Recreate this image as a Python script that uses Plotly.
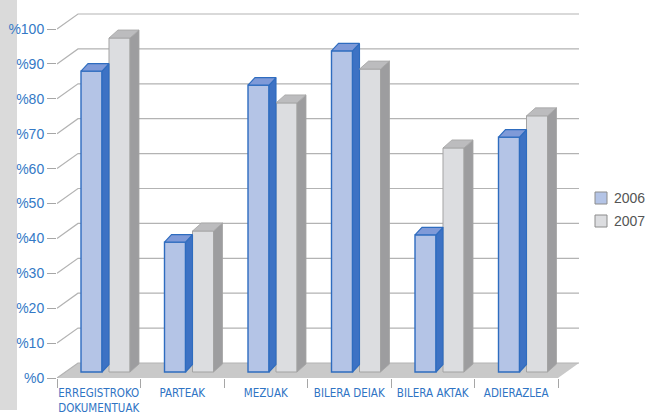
import plotly.graph_objects as go

# ---- data -------------------------------------------------------------
categories = ["ERREGISTROKO<br>DOKUMENTUAK", "PARTEAK", "MEZUAK",
              "BILERA DEIAK", "BILERA AKTAK", "ADIERAZLEA"]
series_names = ["2006", "2007"]
values_2006 = [86.2, 37.2, 82.2, 92.0, 39.3, 67.3]
values_2007 = [95.7, 40.4, 77.1, 86.8, 64.2, 73.4]
y_tickvals = list(range(0, 101, 10))
y_ticktext = ["%" + str(v) for v in y_tickvals]

# ---- geometry of the pseudo-3D box -------------------------------------
W, H = 647, 416
ML, MR, MT, MB = 57, 68, 12, 38
PLOT_W = W - ML - MR
PLOT_H = H - MT - MB
PX_PER_CAT = 83.5          # pixels per category slot
PX_PER_PCT = 3.49          # pixels per percent
DEPTH_X = 21 / PX_PER_CAT  # floor depth, horizontal component
DEPTH_Y = 15 / PX_PER_PCT  # floor depth, vertical component
N = len(categories)
X_MAX = PLOT_W / PX_PER_CAT
Y_MAX = PLOT_H / PX_PER_PCT

BAR_W = 21 / PX_PER_CAT
BASE = 6 / PX_PER_PCT      # bars stand a little behind the floor's front edge


def paper_x(px):
    return (px - ML) / PLOT_W


def paper_y(py):
    return (H - MB - py) / PLOT_H


styles = [
    dict(offset=24 / PX_PER_CAT, dx=7 / PX_PER_CAT, dy=7.5 / PX_PER_PCT,
         front="#b4c4e6", side="#3d72c4", top="#7f9ad8", edge="#2e6cbf", ew=1.4),
    dict(offset=(24 + 21 + 7) / PX_PER_CAT, dx=9 / PX_PER_CAT, dy=8 / PX_PER_PCT,
         front="#dcdde0", side="#9d9d9f", top="#bcbcbe", edge="#a3a3a3", ew=1.0),
]

fig = go.Figure()

for name, vals, st in zip(series_names, [values_2006, values_2007], styles):
    xs = list(range(N))
    # front faces
    fig.add_trace(go.Bar(
        x=xs, y=vals, base=BASE, offset=st["offset"], width=BAR_W,
        marker=dict(color=st["front"], line=dict(color=st["edge"], width=st["ew"])),
        name=name, showlegend=False, hoverinfo="skip"))
    # side faces and top faces
    side_x, side_y, top_x, top_y = [], [], [], []
    for i, v in enumerate(vals):
        x0 = i + st["offset"]
        x1 = x0 + BAR_W
        yt = BASE + v
        side_x += [x1, x1 + st["dx"], x1 + st["dx"], x1, x1, None]
        side_y += [BASE, BASE + st["dy"], yt + st["dy"], yt, BASE, None]
        top_x += [x0, x1, x1 + st["dx"], x0 + st["dx"], x0, None]
        top_y += [yt, yt, yt + st["dy"], yt + st["dy"], yt, None]
    fig.add_trace(go.Scatter(
        x=side_x, y=side_y, mode="lines", fill="toself", fillcolor=st["side"],
        line=dict(color=st["edge"], width=st["ew"] * 0.8),
        showlegend=False, hoverinfo="skip"))
    fig.add_trace(go.Scatter(
        x=top_x, y=top_y, mode="lines", fill="toself", fillcolor=st["top"],
        line=dict(color=st["edge"], width=st["ew"] * 0.8),
        showlegend=False, hoverinfo="skip"))

# carrier trace for the category-label axis
fig.add_trace(go.Scatter(x=[i + 0.5 for i in range(N)], y=[None] * N,
                         xaxis="x2", yaxis="y", mode="markers",
                         showlegend=False, hoverinfo="skip"))

shapes = []
# grey strip at the left edge
shapes.append(dict(type="rect", xref="paper", yref="paper", layer="below",
                   x0=paper_x(0), x1=paper_x(17), y0=paper_y(410), y1=paper_y(0),
                   fillcolor="#dadada", line=dict(width=0)))
# floor
shapes.append(dict(type="path", xref="x", yref="y", layer="below",
                   path=f"M 0 0 L {N} 0 L {N + DEPTH_X} {DEPTH_Y} L {DEPTH_X} {DEPTH_Y} Z",
                   fillcolor="#c9c9c9", line=dict(width=0)))
# gridlines: side wall diagonal + back wall horizontal
for v in y_tickvals:
    shapes.append(dict(type="path", xref="x", yref="y", layer="below",
                       path=f"M 0 {v} L {DEPTH_X} {v + DEPTH_Y} L {N + DEPTH_X} {v + DEPTH_Y}",
                       line=dict(color="#b3b3b3", width=1.2)))

# legend boxes
legend_fills = [styles[0]["front"], styles[1]["front"]]
legend_rows = [198, 221]
annotations = []
for name, fillc, yc in zip(series_names, legend_fills, legend_rows):
    shapes.append(dict(type="rect", xref="paper", yref="paper",
                       x0=paper_x(595), x1=paper_x(607),
                       y0=paper_y(yc + 6), y1=paper_y(yc - 6),
                       fillcolor=fillc, line=dict(color="#8c8c8c", width=1)))
    annotations.append(dict(xref="paper", yref="paper", x=paper_x(612), y=paper_y(yc),
                            xanchor="left", yanchor="middle", showarrow=False,
                            text=name,
                            font=dict(family="Liberation Sans, Arial, sans-serif",
                                      size=14, color="#555555")))

fig.update_layout(
    width=W, height=H,
    margin=dict(l=ML, r=MR, t=MT, b=MB, pad=0, autoexpand=False),
    paper_bgcolor="white", plot_bgcolor="white",
    barmode="overlay",
    shapes=shapes, annotations=annotations,
    showlegend=False,
    xaxis=dict(range=[0, X_MAX], tickvals=list(range(N + 1)),
               ticktext=[""] * (N + 1), ticks="outside", ticklen=9,
               tickcolor="#a6a6a6", tickwidth=1, automargin=False,
               showgrid=False, zeroline=False, showline=False, fixedrange=True),
    xaxis2=dict(range=[0, X_MAX], overlaying="x", anchor="y", side="bottom",
                tickvals=[i + 0.5 for i in range(N)], ticktext=categories,
                ticks="outside", ticklen=4, tickcolor="rgba(0,0,0,0)",
                automargin=False,
                tickfont=dict(family="DejaVu Sans Condensed, Liberation Sans Narrow, Arial Narrow, sans-serif",
                              size=11.5, color="#2f74c4"),
                showgrid=False, zeroline=False, showline=False, fixedrange=True),
    yaxis=dict(range=[0, Y_MAX], tickvals=y_tickvals, ticktext=y_ticktext,
               ticks="outside", ticklen=9, tickcolor="#a6a6a6", tickwidth=1,
               automargin=False,
               tickfont=dict(family="Liberation Sans, Arial, sans-serif",
                             size=14, color="#3479c6"),
               showgrid=False, zeroline=False, showline=False, fixedrange=True),
)

fig.write_html("out.html")
